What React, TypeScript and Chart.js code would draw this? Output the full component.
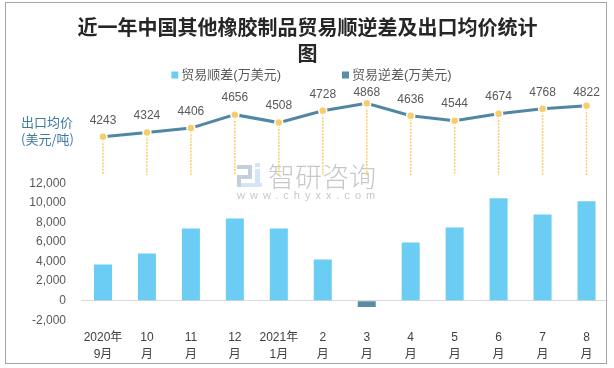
import React, { useEffect, useRef } from "react";
import { Chart, registerables } from "chart.js";

Chart.register(...registerables);

const TITLE_LINES = ["近一年中国其他橡胶制品贸易顺逆差及出口均价统计", "图"];
const CATEGORIES = [
  ["2020年", "9月"], ["10", "月"], ["11", "月"], ["12", "月"],
  ["2021年", "1月"], ["2", "月"], ["3", "月"], ["4", "月"],
  ["5", "月"], ["6", "月"], ["7", "月"], ["8", "月"],
];
const SURPLUS = [3700, 4830, 7400, 8430, 7400, 4215, null, 5960, 7500, 10490, 8840, 10180];
const DEFICIT = [null, null, null, null, null, null, -650, null, null, null, null, null];
const PRICE = [4243, 4324, 4406, 4656, 4508, 4728, 4868, 4636, 4544, 4674, 4768, 4822];
const SURPLUS_LABEL = "贸易顺差(万美元)";
const DEFICIT_LABEL = "贸易逆差(万美元)";
const PRICE_LABEL = "出口均价(美元/吨)";
const PRICE_AXIS_TITLE = ["出口均价", "(美元/吨)"];
const Y_MIN = -2000;
const Y_MAX = 22000;
const Y_STEP = 2000;
const Y_LABEL_MAX = 12000;
const PRICE_MIN = 825;
const PRICE_MAX = 5190;
const PRICE_DROP_TO = 3525;
const WATERMARK = "智研咨询";
const WATERMARK_URL = "www.chyxx.com";

const FONT = '"Liberation Sans", "Noto Sans CJK SC", sans-serif';
const CJK_FONT = '"Noto Sans CJK SC", "Liberation Sans", sans-serif';
const SURPLUS_COLOR = "#6bcdf4";
const DEFICIT_COLOR = "#5a8ca6";
const LINE_COLOR = "#4f87a4";
const POINT_COLOR = "#f7cd6a";
const TEXT_COLOR = "#595959";

const decorPlugin = {
  id: "decor",
  beforeDatasetsDraw(chart: any) {
    const ctx = chart.ctx as CanvasRenderingContext2D;
    ctx.save();
    // watermark logo
    ctx.fillStyle = "#c3cfdd";
    ctx.fillRect(237, 165, 15, 4);
    ctx.fillRect(248, 165, 4, 13);
    ctx.fillRect(237, 175, 15, 4);
    ctx.fillRect(237, 175, 4, 12);
    ctx.fillStyle = "#d6e5f3";
    ctx.fillRect(241, 183, 21, 4);
    ctx.fillRect(255, 169, 5, 14);
    ctx.fillRect(255, 163, 5, 4);
    // watermark text
    ctx.fillStyle = "#c8c8c8";
    ctx.font = `300 27px ${CJK_FONT}`;
    ctx.textAlign = "left";
    ctx.textBaseline = "middle";
    ctx.fillText(WATERMARK, 268, 177);
    ctx.font = `11px ${FONT}`;
    (ctx as any).letterSpacing = "5px";
    ctx.fillStyle = "#c8c8c8";
    ctx.fillText(WATERMARK_URL, 237, 196);
    (ctx as any).letterSpacing = "0px";

    // drop lines from each price point
    const meta = chart.getDatasetMeta(2);
    const yEnd = chart.scales.y1.getPixelForValue(PRICE_DROP_TO);
    ctx.strokeStyle = POINT_COLOR;
    ctx.lineWidth = 1.5;
    ctx.setLineDash([2, 1.2]);
    meta.data.forEach((pt: any) => {
      ctx.beginPath();
      ctx.moveTo(pt.x, pt.y);
      ctx.lineTo(pt.x, yEnd);
      ctx.stroke();
    });
    ctx.restore();
  },
  afterDatasetsDraw(chart: any) {
    const ctx = chart.ctx as CanvasRenderingContext2D;
    ctx.save();
    // price labels
    const meta = chart.getDatasetMeta(2);
    ctx.font = `12px ${FONT}`;
    ctx.fillStyle = TEXT_COLOR;
    ctx.textAlign = "center";
    ctx.textBaseline = "middle";
    meta.data.forEach((pt: any, i: number) => {
      const y = Math.max(pt.y - 16.5, 93);
      ctx.fillText(String(PRICE[i]), pt.x, y);
    });

    // left axis title for price
    ctx.font = `13px ${CJK_FONT}`;
    ctx.fillStyle = "#3f7aa0";
    ctx.textAlign = "left";
    ctx.fillText(PRICE_AXIS_TITLE[0], 21, 122);
    ctx.fillText(PRICE_AXIS_TITLE[1], 21, 139);

    // legend (bar series only)
    const items = chart.data.datasets.filter((d: any) => d.type === "bar");
    ctx.font = `13px ${FONT}`;
    const box = 7;
    const gapText = 3;
    const gapItem = 61;
    const widths = items.map((d: any) => ctx.measureText(d.label).width);
    const total =
      widths.reduce((a: number, w: number) => a + w + box + gapText, 0) + gapItem * (items.length - 1);
    let x = 311.5 - total / 2;
    const cy = 75;
    items.forEach((d: any, i: number) => {
      ctx.fillStyle = d.backgroundColor;
      ctx.fillRect(x, cy - box / 2, box, box);
      ctx.fillStyle = TEXT_COLOR;
      ctx.fillText(d.label, x + box + gapText, cy);
      x += box + gapText + widths[i] + gapItem;
    });
    ctx.restore();
  },
};

export default function App() {
  const ref = useRef<HTMLCanvasElement | null>(null);

  useEffect(() => {
    if (!ref.current) return;
    const chart = new Chart(ref.current, {
      type: "bar",
      data: {
        labels: CATEGORIES,
        datasets: [
          {
            type: "bar",
            label: SURPLUS_LABEL,
            data: SURPLUS,
            backgroundColor: SURPLUS_COLOR,
            grouped: false,
            barPercentage: 0.41,
            categoryPercentage: 1,
            yAxisID: "y",
          } as any,
          {
            type: "bar",
            label: DEFICIT_LABEL,
            data: DEFICIT,
            backgroundColor: DEFICIT_COLOR,
            grouped: false,
            barPercentage: 0.41,
            categoryPercentage: 1,
            yAxisID: "y",
          } as any,
          {
            type: "line",
            label: PRICE_LABEL,
            data: PRICE,
            borderColor: LINE_COLOR,
            borderWidth: 3,
            tension: 0,
            pointRadius: 4,
            pointBackgroundColor: POINT_COLOR,
            pointBorderColor: "#ffffff",
            pointBorderWidth: 1.5,
            yAxisID: "y1",
            clip: false,
          } as any,
        ],
      },
      options: {
        responsive: false,
        animation: false,
        devicePixelRatio: 1,
        layout: { padding: { top: 0, left: 6, right: 5, bottom: -4 } },
        plugins: {
          legend: { display: false },
          tooltip: { enabled: false },
          title: {
            display: true,
            text: TITLE_LINES,
            color: "#262626",
            font: { size: 20, weight: "bold", family: CJK_FONT, lineHeight: 1.3 },
            padding: { top: 14, bottom: 20 },
          },
        },
        scales: {
          x: {
            type: "category",
            grid: { display: false, drawTicks: false },
            border: { display: false },
            ticks: {
              color: "#404040",
              font: { size: 12, family: FONT, lineHeight: 1.45 },
              padding: 8.5,
              maxRotation: 0,
              autoSkip: false,
            },
          },
          y: {
            type: "linear",
            position: "left",
            min: Y_MIN,
            max: Y_MAX,
            border: { display: false },
            grid: {
              drawTicks: false,
              color: (c: any) => (c.tick && c.tick.value === 0 ? "#d9d9d9" : "rgba(0,0,0,0)"),
              lineWidth: 1,
            },
            ticks: {
              stepSize: Y_STEP,
              color: TEXT_COLOR,
              padding: 15,
              font: { size: 12, family: FONT },
              callback: (v: any) => (Number(v) <= Y_LABEL_MAX ? Number(v).toLocaleString("en-US") : ""),
            },
            afterFit: (s: any) => {
              s.width = 75;
            },
          },
          y1: {
            type: "linear",
            display: false,
            min: PRICE_MIN,
            max: PRICE_MAX,
          },
        },
      },
      plugins: [decorPlugin],
    } as any);
    return () => chart.destroy();
  }, []);

  return (
    <div
      style={{
        position: "fixed",
        left: 5,
        top: 2,
        width: 602,
        height: 362,
        boxSizing: "border-box",
        border: "1px solid #a6a6a6",
        overflow: "hidden",
        background: "#ffffff",
      }}
    >
      <canvas
        ref={ref}
        width={614}
        height={368}
        style={{ position: "absolute", left: -6, top: -3, width: 614, height: 368 }}
      />
    </div>
  );
}
